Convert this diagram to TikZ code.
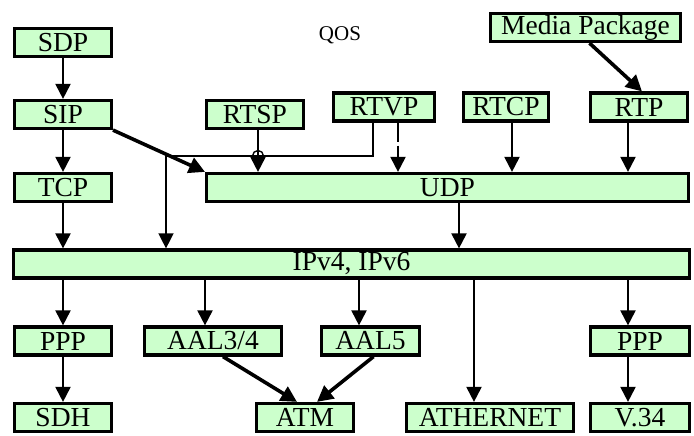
\documentclass[tikz,border=0pt]{standalone}
\usepackage{fontspec}
\setmainfont{Liberation Serif}
\usetikzlibrary{arrows.meta}
\definecolor{boxfill}{RGB}{204,255,204}
\begin{document}
\begin{tikzpicture}[x=1pt,y=-1pt,
  box/.style={draw, line width=3.2pt, fill=boxfill, inner sep=0pt,
    minimum height=28pt, font=\fontsize{27.5}{30}\selectfont},
  arr/.style={line width=2pt, -{Triangle[length=15pt,width=15pt]}},
  heavy/.style={line width=3.6pt, -{Triangle[length=16pt,width=16pt]}},
  link/.style={line width=1.4pt}]
\useasboundingbox (0,0) rectangle (694,436);

% protocol stack boxes
\node[box, minimum width=96.8pt]  (sdp)   at (63,42.5)    {SDP};
\node[box, minimum width=96.8pt]  (sip)   at (63,114.5)   {SIP};
\node[box, minimum width=96.8pt]  (tcp)   at (63,187.5)   {TCP};
\node[box, minimum width=96.8pt]  (rtsp)  at (255,114.5)  {RTSP};
\node[box, minimum width=100.8pt] (rtvp)  at (384,107)    {RTVP};
\node[box, minimum width=84.8pt]  (rtcp)  at (506,107)    {RTCP};
\node[box, minimum width=96.8pt]  (rtp)   at (639,107)    {RTP};
\node[box, minimum width=189.8pt] (media) at (585.5,27.5) {Media Package};
\node[box, minimum width=481.8pt] (udp)   at (447.5,187.5){UDP};
\node[box, minimum width=675.8pt] (ip)    at (351.5,264)  {IPv4, IPv6};
\node[box, minimum width=96.8pt]  (pppa)  at (63,341)     {PPP};
\node[box, minimum width=136.8pt] (aalf)  at (213,341)    {AAL3/4};
\node[box, minimum width=97.8pt]  (aalv)  at (370.5,341)  {AAL5};
\node[box, minimum width=98.8pt]  (pppb)  at (640,341)    {PPP};
\node[box, minimum width=96.8pt]  (sdh)   at (63,417.5)   {SDH};
\node[box, minimum width=96.8pt]  (atm)   at (305,417.5)  {ATM};
\node[box, minimum width=166.8pt] (eth)   at (490,417.5)  {ATHERNET};
\node[box, minimum width=98.8pt]  (vtf)   at (640,417.5)  {V.34};

\node[font=\fontsize{21}{24}\selectfont] (qos) at (340,35) {QOS};

% upper layer connectors
\draw[arr] (sdp.south) -- (sip.north);
\draw[arr] (sip.south) -- (tcp.north);
\draw[heavy] (sip.south east) -- (udp.north west);
\draw[heavy] ([xshift=4]media.south) -- ([xshift=3]rtp.north);
\draw[arr] ([xshift=3]rtsp.south) -- ([xshift=3]rtsp.south |- udp.north);
\draw[arr, dash pattern=on 19pt off 4pt] ([xshift=14]rtvp.south) -- ([xshift=14]rtvp.south |- udp.north);
\draw[arr] ([xshift=6]rtcp.south) -- ([xshift=6]rtcp.south |- udp.north);
\draw[arr] ([xshift=-11]rtp.south) -- ([xshift=-11]rtp.south |- udp.north);

% RTVP route to the IP layer
\coordinate (turn) at (166,156);
\draw[link, -{Triangle[length=15pt,width=15pt]}]
  ([xshift=-11]rtvp.south) |- (turn) -- (turn |- ip.north);
\node[draw, circle, line width=1.4pt, minimum size=11pt, inner sep=0pt]
  (cross) at (258,156) {};

% transport to network
\draw[arr] (tcp.south) -- (tcp.south |- ip.north);
\draw[arr] (udp.south -| 459,0) -- (ip.north -| 459,0);

% network to link layer
\draw[arr] (ip.south -| pppa.north) -- (pppa.north);
\draw[arr] (ip.south -| 205,0) -- (aalf.north -| 205,0);
\draw[arr] (ip.south -| 359,0) -- (aalv.north -| 359,0);
\draw[arr] (ip.south -| 474,0) -- (eth.north -| 474,0);
\draw[arr] (ip.south -| 628,0) -- (pppb.north -| 628,0);

% link to physical
\draw[arr] (pppa.south) -- (sdh.north);
\draw[arr] (pppb.south -| 628,0) -- (vtf.north -| 628,0);
\draw[heavy] ([xshift=10]aalf.south) -- ([xshift=-8]atm.north);
\draw[heavy] ([xshift=3]aalv.south) -- ([xshift=12]atm.north);
\end{tikzpicture}
\end{document}
